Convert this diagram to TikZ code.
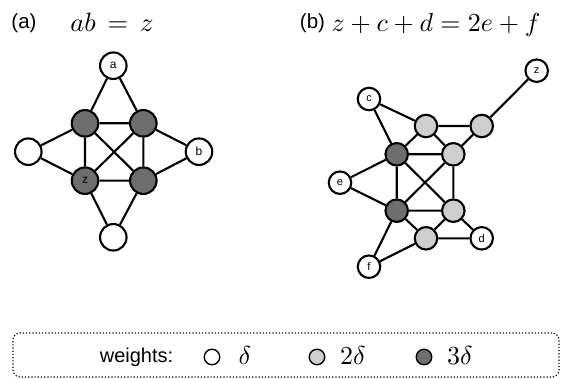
\documentclass[tikz,border=0pt]{standalone}
\usepackage{fontspec}
\usepackage{graphicx}
\newfontfamily\lblfont{Liberation Sans}
\definecolor{darkw}{RGB}{110,110,110}
\definecolor{lightw}{RGB}{206,206,206}
\newcommand{\scaledmath}[2]{\scalebox{#1}{$#2$}}
\tikzset{
  na/.style={circle,draw,line width=2.1pt,minimum size=26.5pt,inner sep=0pt,fill=white,font=\lblfont\fontsize{12}{12}\selectfont},
  nb/.style={circle,draw,line width=2.1pt,minimum size=22.5pt,inner sep=0pt,fill=white,font=\lblfont\fontsize{11}{11}\selectfont},
  dk/.style={fill=darkw},
  lt/.style={fill=lightw},
  edge/.style={line width=2.1pt},
  title/.style={anchor=base,inner sep=0pt,font=\lblfont\fontsize{20.5}{20.5}\selectfont},
  mathlbl/.style={anchor=base,inner sep=0pt},
  legc/.style={circle,draw,line width=1.4pt,minimum size=15.5pt,inner sep=0pt},
  legbox/.style={draw,dotted,line width=1.2pt,rounded corners=7pt}
}
\begin{document}
\begin{tikzpicture}[x=1pt,y=-1pt]
\useasboundingbox (0,0) rectangle (564,379);
% titles
\node[title] (ta) at (24,29) {(a)};
\node[mathlbl] (ma) at (112,32) {\scaledmath{2.65}{ab\,=\,z}};
\node[title] (tb) at (312.5,29) {(b)};
\node[mathlbl] (mb) at (436,32) {\scaledmath{2.6}{z+c+d=2e+f}};
% panel (a)
\node[na] (a) at (113.3,65.7) {a};
\node[na,dk] (tl) at (85,123.3) {};
\node[na,dk] (tr) at (143.3,123.3) {};
\node[na] (lw) at (28.3,151.7) {};
\node[na] (b) at (199,151.7) {b};
\node[na,dk] (z) at (85,180.7) {z};
\node[na,dk] (br) at (143.3,180.7) {};
\node[na] (bt) at (113.3,237.3) {};
\draw[edge] (a)--(tl) (a)--(tr) (tl)--(tr) (tl)--(lw) (tl)--(z) (tl)--(br)
  (tr)--(z) (tr)--(br) (tr)--(b) (lw)--(z) (z)--(br) (br)--(b) (z)--(bt) (br)--(bt);
% panel (b)
\node[nb] (z2) at (536.7,70.7) {z};
\node[nb] (c) at (369,99) {c};
\node[nb,lt] (l1) at (426,126) {};
\node[nb,lt] (l2) at (481.7,126) {};
\node[nb,dk] (d1) at (396.7,154.3) {};
\node[nb,lt] (l3) at (453.3,154.3) {};
\node[nb] (e) at (340,182.7) {e};
\node[nb,dk] (d2) at (396.7,210.7) {};
\node[nb,lt] (l4) at (453.3,210.7) {};
\node[nb,lt] (l5) at (426,238.3) {};
\node[nb] (d) at (481.7,238.3) {d};
\node[nb] (f) at (369,266.7) {f};
\draw[edge] (c)--(l1) (c)--(d1) (l1)--(l2) (l1)--(d1) (l1)--(l3) (l2)--(l3) (l2)--(z2)
  (d1)--(l3) (d1)--(e) (d1)--(d2) (d1)--(l4) (l3)--(d2) (l3)--(l4)
  (e)--(d2) (d2)--(l4) (d2)--(l5) (d2)--(f) (l4)--(l5) (l4)--(d) (l5)--(d) (l5)--(f);
% legend
\node[legbox,minimum width=546pt,minimum height=44pt] (box) at (286,355) {};
\node[anchor=base,inner sep=0pt,font=\lblfont\fontsize{20}{20}\selectfont] (w) at (136.5,362) {weights:};
\node[legc,fill=white] (c1) at (212,357) {};
\node[mathlbl] (t1) at (245,364) {\scaledmath{2.6}{\delta}};
\node[legc,fill=lightw] (c2) at (317,357) {};
\node[mathlbl] (t2) at (353,364) {\scaledmath{2.6}{2\delta}};
\node[legc,fill=darkw] (c3) at (424,357) {};
\node[mathlbl] (t3) at (460,364) {\scaledmath{2.6}{3\delta}};
\end{tikzpicture}
\end{document}
